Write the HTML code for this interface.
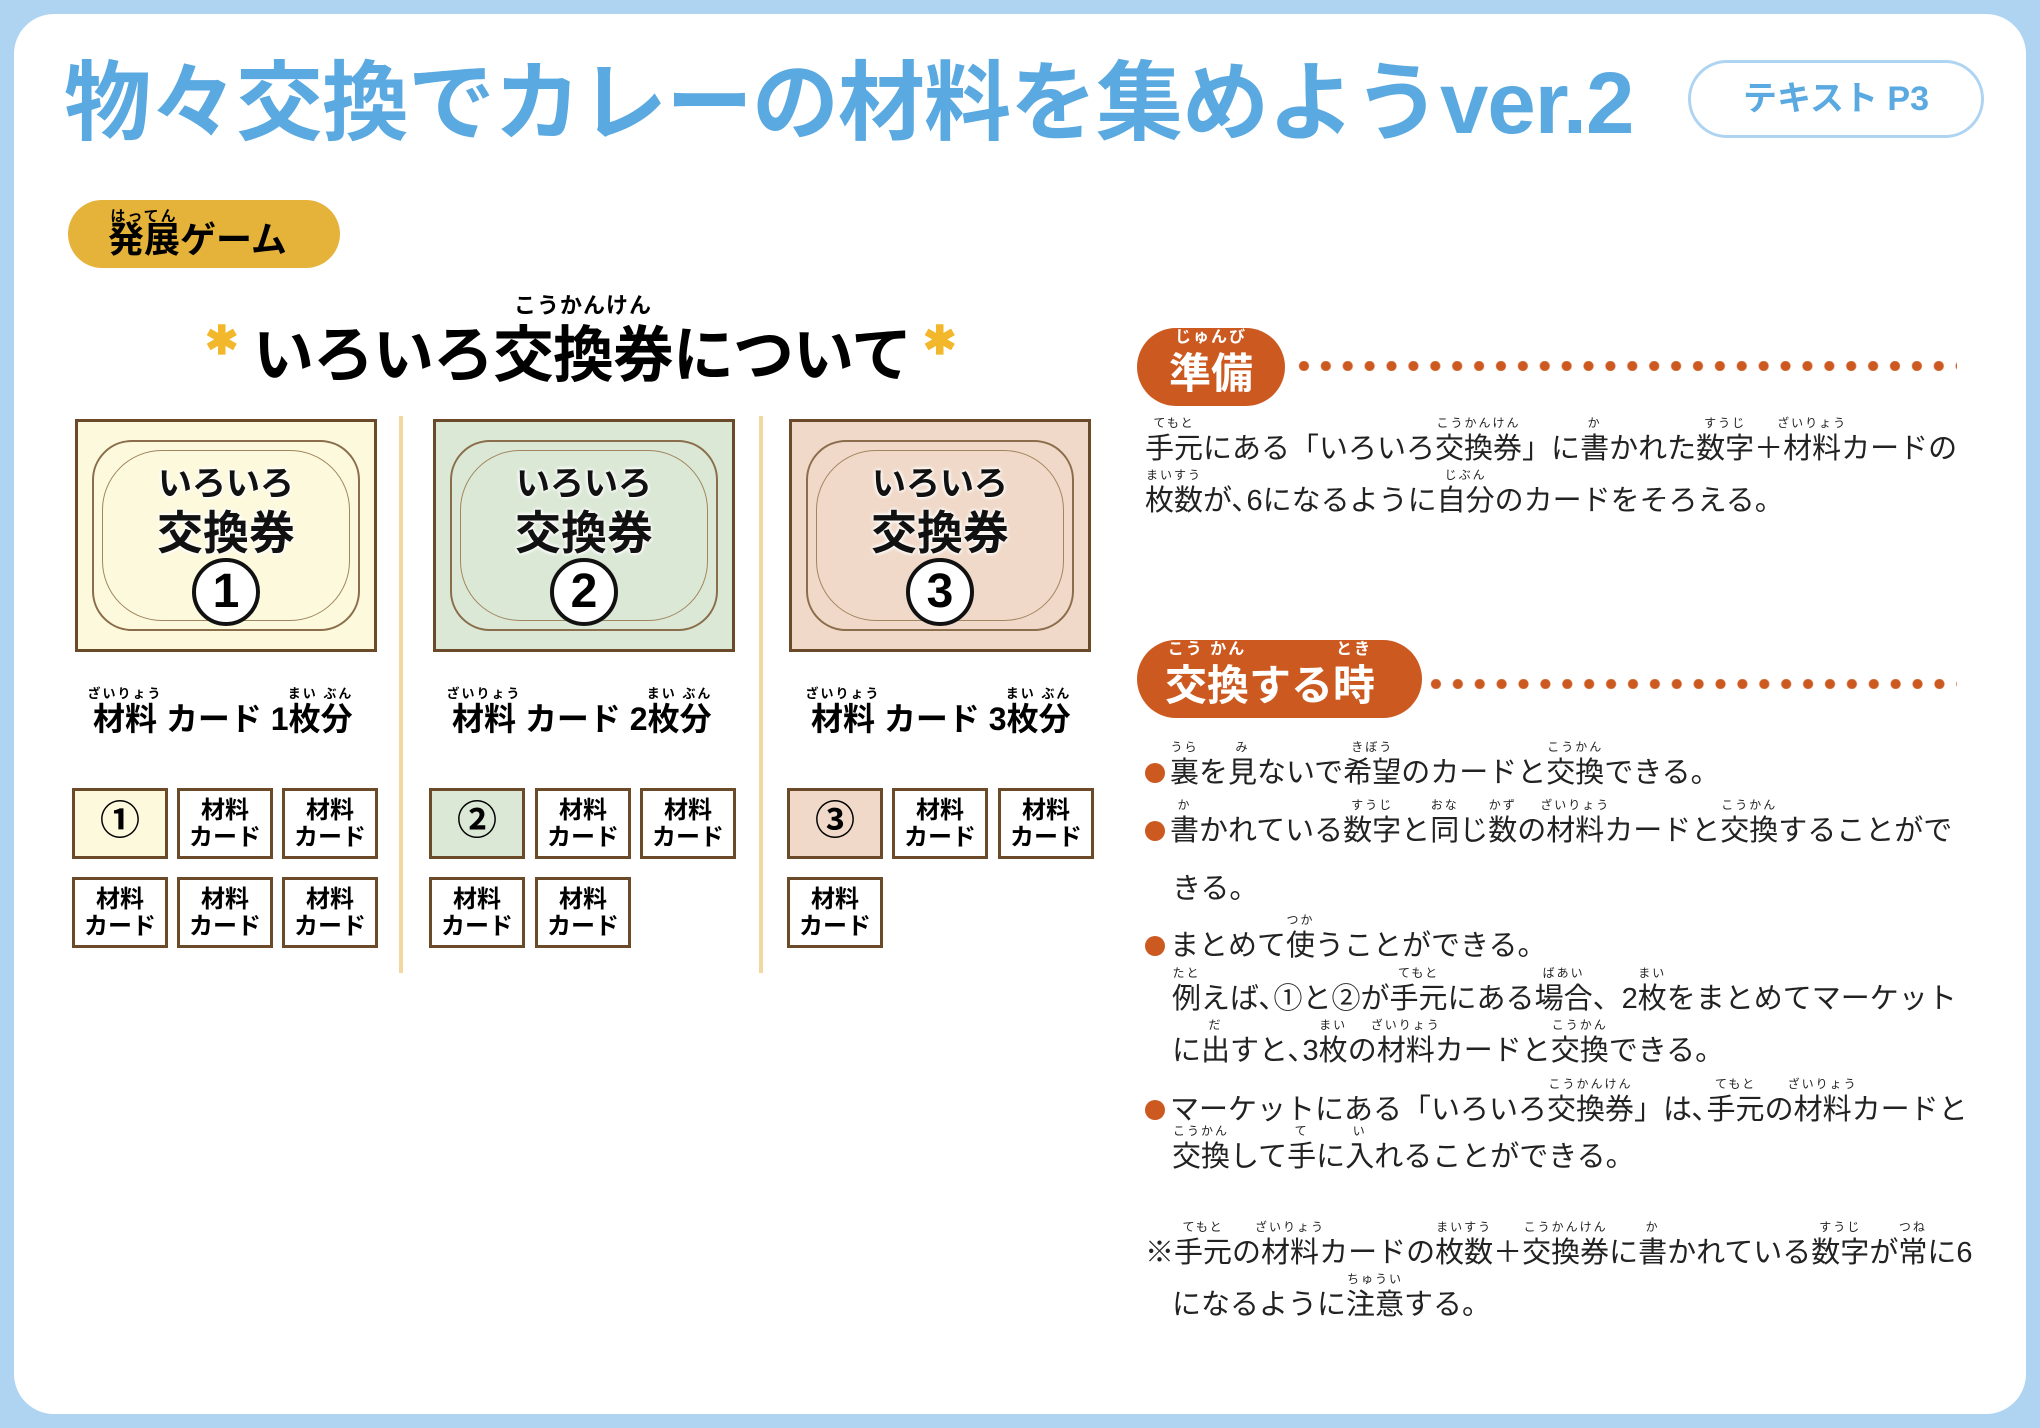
<!DOCTYPE html>
<html><head><meta charset="utf-8"><style>
*{margin:0;padding:0;box-sizing:border-box}
body{width:2040px;height:1428px;background:#aed4f2;font-family:"Liberation Sans","Noto Sans CJK JP",sans-serif;position:relative;overflow:hidden}
.frame{position:absolute;left:14px;top:14px;width:2012px;height:1400px;background:#fff;border-radius:40px}
.a{position:absolute;white-space:nowrap}
.r{position:relative}
.r i{position:absolute;left:-10px;right:-10px;top:-16px;font-size:12px;text-align:center;font-style:normal;white-space:nowrap;line-height:1;font-weight:normal;letter-spacing:2px}
.card{position:absolute;width:302px;height:233px;border:3px solid #6b4a2a}
.orn{position:absolute;left:14px;top:18px;right:14px;bottom:18px;border:2px solid #8a6d4a;border-radius:40px}
.orn2{position:absolute;left:24px;top:28px;right:24px;bottom:28px;border:1px solid #a08660;border-radius:60px}
.ct{position:absolute;left:0;right:0;text-align:center;font-weight:bold;color:#111;text-shadow:0 0 4px #fff,0 0 4px #fff,0 0 4px #fff}
.circ{position:absolute;left:50%;margin-left:-34px;top:136px;width:68px;height:68px;border:4px solid #111;border-radius:50%;background:#fff;font-size:48px;line-height:60px;text-align:center;font-weight:bold}
.sb{position:absolute;width:96px;height:71px;border:3px solid #6b4a2a;background:#fff;text-align:center;font-weight:bold;font-size:24px;line-height:27px;padding-top:6px}
.sbn{font-size:40px;line-height:60px;padding-top:0}
.lbl{position:absolute;font-size:32px;font-weight:bold;line-height:40px}
.lbl .r i{font-size:13px;top:-14px;font-weight:bold}
.div{position:absolute;width:4px;top:416px;height:557px;background:#f0d8a0}
.tx{position:absolute;font-size:29px;line-height:40px;color:#222;white-space:nowrap;letter-spacing:0}
.dot{position:absolute;width:20px;height:20px;border-radius:50%;background:#cc5a20;left:1145px}
.pill{position:absolute;background:#cc5a20;border-radius:40px;color:#fff;font-weight:bold}
.pill .r i{top:-20px;font-size:16px;font-weight:bold;color:#fff}
.dots{position:absolute;height:10px;background:radial-gradient(circle,#cc5a20 4.5px,transparent 5.5px) 0 0/21.9px 10px repeat-x}
</style></head><body>
<div class="frame"></div>
<div class="a" style="left:64px;top:50px;font-size:87px;font-weight:bold;color:#5aa9e0;line-height:108px;letter-spacing:-1px">物々交換でカレーの材料を集めようver.2</div>
<div class="a" style="left:1688px;top:60px;width:296px;height:78px;border:3px solid #aed4f2;border-radius:40px;color:#5aa9e0;font-weight:bold;font-size:34px;line-height:72px;text-align:center">テキスト P3</div>
<div class="a" style="left:68px;top:200px;width:272px;height:68px;background:#e6b33a;border-radius:34px;font-weight:bold;font-size:36px;line-height:80px;padding-left:40px"><span class="r">発展<i style="top:-10px;font-size:15px;font-weight:bold">はってん</i></span>ゲーム</div>

<div class="a" style="left:205px;top:318px;font-size:40px;color:#f2b72a;font-weight:bold">✱</div>
<div class="a" style="left:923px;top:318px;font-size:40px;color:#f2b72a;font-weight:bold">✱</div>
<div class="a" style="left:253px;top:318px;font-size:61px;font-weight:bold;line-height:74px;letter-spacing:-1px">いろいろ<span class="r">交換券<i style="font-size:22px;top:-26px;letter-spacing:1px;font-weight:bold">こうかんけん</i></span>について</div>

<div class="card" style="left:75px;top:419px;background:#fdf9dc"><div class="orn"></div><div class="orn2"></div>
<div class="ct" style="top:34px;font-size:34px">いろいろ</div><div class="ct" style="top:75px;font-size:46px">交換券</div><div class="circ">1</div></div>
<div class="card" style="left:433px;top:419px;background:#dbe8d6"><div class="orn"></div><div class="orn2"></div>
<div class="ct" style="top:34px;font-size:34px">いろいろ</div><div class="ct" style="top:75px;font-size:46px">交換券</div><div class="circ">2</div></div>
<div class="card" style="left:789px;top:419px;background:#f0d9c8"><div class="orn"></div><div class="orn2"></div>
<div class="ct" style="top:34px;font-size:34px">いろいろ</div><div class="ct" style="top:75px;font-size:46px">交換券</div><div class="circ">3</div></div>

<div class="div" style="left:399px"></div>
<div class="div" style="left:759px"></div>

<div class="lbl" style="left:93px;top:699px"><span class="r">材料<i>ざいりょう</i></span> カード 1<span class="r">枚分<i>まい ぶん</i></span></div>
<div class="lbl" style="left:452px;top:699px"><span class="r">材料<i>ざいりょう</i></span> カード 2<span class="r">枚分<i>まい ぶん</i></span></div>
<div class="lbl" style="left:811px;top:699px"><span class="r">材料<i>ざいりょう</i></span> カード 3<span class="r">枚分<i>まい ぶん</i></span></div>

<div class="sb sbn" style="left:72px;top:788px;background:#fdf9dc">①</div>
<div class="sb" style="left:177px;top:788px">材料<br>カード</div>
<div class="sb" style="left:282px;top:788px">材料<br>カード</div>
<div class="sb" style="left:72px;top:877px">材料<br>カード</div>
<div class="sb" style="left:177px;top:877px">材料<br>カード</div>
<div class="sb" style="left:282px;top:877px">材料<br>カード</div>

<div class="sb sbn" style="left:429px;top:788px;background:#dbe8d6">②</div>
<div class="sb" style="left:535px;top:788px">材料<br>カード</div>
<div class="sb" style="left:640px;top:788px">材料<br>カード</div>
<div class="sb" style="left:429px;top:877px">材料<br>カード</div>
<div class="sb" style="left:535px;top:877px">材料<br>カード</div>

<div class="sb sbn" style="left:787px;top:788px;background:#f0d9c8">③</div>
<div class="sb" style="left:892px;top:788px">材料<br>カード</div>
<div class="sb" style="left:998px;top:788px">材料<br>カード</div>
<div class="sb" style="left:787px;top:877px">材料<br>カード</div>

<div class="pill" style="left:1137px;top:328px;width:148px;height:78px;font-size:42px;line-height:92px;text-align:center"><span class="r">準備<i>じゅんび</i></span></div>
<div class="dots" style="left:1293px;top:361px;width:664px"></div>
<div class="tx" style="left:1145px;top:429px"><span class="r">手元<i>てもと</i></span>にある「いろいろ<span class="r">交換券<i>こうかんけん</i></span>」に<span class="r">書<i>か</i></span>かれた<span class="r">数字<i>すうじ</i></span>＋<span class="r">材料<i>ざいりょう</i></span>カードの</div>
<div class="tx" style="left:1145px;top:481px"><span class="r">枚数<i>まいすう</i></span>が､6になるように<span class="r">自分<i>じぶん</i></span>のカードをそろえる。</div>

<div class="pill" style="left:1137px;top:640px;width:285px;height:78px;font-size:42px;line-height:92px;padding-left:28px"><span class="r">交換<i>こう かん</i></span>する<span class="r">時<i>とき</i></span></div>
<div class="dots" style="left:1425px;top:679px;width:532px"></div>

<div class="dot" style="top:763px"></div>
<div class="tx" style="left:1170px;top:753px"><span class="r">裏<i>うら</i></span>を<span class="r">見<i>み</i></span>ないで<span class="r">希望<i>きぼう</i></span>のカードと<span class="r">交換<i>こうかん</i></span>できる。</div>
<div class="dot" style="top:821px"></div>
<div class="tx" style="left:1170px;top:811px"><span class="r">書<i>か</i></span>かれている<span class="r">数字<i>すうじ</i></span>と<span class="r">同<i>おな</i></span>じ<span class="r">数<i>かず</i></span>の<span class="r">材料<i>ざいりょう</i></span>カードと<span class="r">交換<i>こうかん</i></span>することがで</div>
<div class="tx" style="left:1172px;top:869px">きる。</div>
<div class="dot" style="top:936px"></div>
<div class="tx" style="left:1170px;top:926px">まとめて<span class="r">使<i>つか</i></span>うことができる。</div>
<div class="tx" style="left:1172px;top:979px"><span class="r">例<i>たと</i></span>えば､①と②が<span class="r">手元<i>てもと</i></span>にある<span class="r">場合<i>ばあい</i></span>、2<span class="r">枚<i>まい</i></span>をまとめてマーケット</div>
<div class="tx" style="left:1172px;top:1031px">に<span class="r">出<i>だ</i></span>すと､3<span class="r">枚<i>まい</i></span>の<span class="r">材料<i>ざいりょう</i></span>カードと<span class="r">交換<i>こうかん</i></span>できる。</div>
<div class="dot" style="top:1100px"></div>
<div class="tx" style="left:1170px;top:1090px">マーケットにある「いろいろ<span class="r">交換券<i>こうかんけん</i></span>」は､<span class="r">手元<i>てもと</i></span>の<span class="r">材料<i>ざいりょう</i></span>カードと</div>
<div class="tx" style="left:1172px;top:1137px"><span class="r">交換<i>こうかん</i></span>して<span class="r">手<i>て</i></span>に<span class="r">入<i>い</i></span>れることができる。</div>
<div class="tx" style="left:1145px;top:1233px">※<span class="r">手元<i>てもと</i></span>の<span class="r">材料<i>ざいりょう</i></span>カードの<span class="r">枚数<i>まいすう</i></span>＋<span class="r">交換券<i>こうかんけん</i></span>に<span class="r">書<i>か</i></span>かれている<span class="r">数字<i>すうじ</i></span>が<span class="r">常<i>つね</i></span>に6</div>
<div class="tx" style="left:1172px;top:1285px">になるように<span class="r">注意<i>ちゅうい</i></span>する。</div>
</body></html>
